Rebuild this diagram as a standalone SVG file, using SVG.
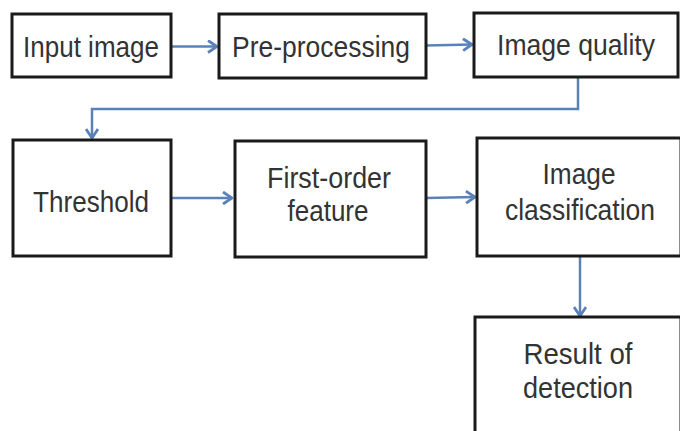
<svg xmlns="http://www.w3.org/2000/svg" width="680" height="431" viewBox="0 0 680 431">
<style>
.box{fill:#fff;stroke:#1a1a1a;stroke-width:3}
.t{font-family:"Liberation Sans",Arial,sans-serif;font-size:30px;fill:#333;text-anchor:middle}
.c{fill:none;stroke:#5a82b8;stroke-width:2.5}
</style>
<defs>
<marker id="ah" viewBox="0 0 12 14" refX="11" refY="7" markerWidth="12" markerHeight="14" markerUnits="userSpaceOnUse" orient="auto">
<path d="M2,1 L11,7 L2,13" fill="none" stroke="#5a82b8" stroke-width="2.8"/>
</marker>
</defs>
<rect width="680" height="431" fill="#fff"/>
<g id="connectors">
<line class="c" x1="171" y1="46.5" x2="217" y2="46.5" marker-end="url(#ah)"/>
<line class="c" x1="426" y1="45.5" x2="472" y2="44.5" marker-end="url(#ah)"/>
<polyline class="c" points="578,77 578,109 92,109 92,138" marker-end="url(#ah)"/>
<line class="c" x1="171" y1="198" x2="232" y2="198" marker-end="url(#ah)"/>
<line class="c" x1="426" y1="198" x2="475" y2="197" marker-end="url(#ah)"/>
<line class="c" x1="580" y1="257" x2="580" y2="316" marker-end="url(#ah)"/>
</g>
<g id="input-image">
<rect class="box" x="12" y="14" width="159" height="63"/>
<text class="t" x="91" y="57" textLength="136" lengthAdjust="spacingAndGlyphs">Input image</text>
</g>
<g id="pre-processing">
<rect class="box" x="219" y="14" width="207" height="64"/>
<text class="t" x="321" y="57" textLength="178" lengthAdjust="spacingAndGlyphs">Pre-processing</text>
</g>
<g id="image-quality">
<rect class="box" x="474" y="13" width="204" height="64"/>
<text class="t" x="576" y="55" textLength="158" lengthAdjust="spacingAndGlyphs">Image quality</text>
</g>
<g id="threshold">
<rect class="box" x="13" y="140" width="158" height="116"/>
<text class="t" x="91" y="212" textLength="116" lengthAdjust="spacingAndGlyphs">Threshold</text>
</g>
<g id="first-order-feature">
<rect class="box" x="235" y="141" width="191" height="116"/>
<text class="t" x="329" y="188" textLength="124" lengthAdjust="spacingAndGlyphs">First-order</text>
<text class="t" x="328" y="221" textLength="81" lengthAdjust="spacingAndGlyphs">feature</text>
</g>
<g id="image-classification">
<rect class="box" x="477" y="138" width="204" height="118"/>
<text class="t" x="579" y="184" textLength="73" lengthAdjust="spacingAndGlyphs">Image</text>
<text class="t" x="580" y="220" textLength="150" lengthAdjust="spacingAndGlyphs">classification</text>
</g>
<g id="result-of-detection">
<rect class="box" x="475" y="317" width="206" height="120"/>
<text class="t" x="578" y="364" textLength="109" lengthAdjust="spacingAndGlyphs">Result of</text>
<text class="t" x="578" y="398" textLength="110" lengthAdjust="spacingAndGlyphs">detection</text>
</g>
</svg>
